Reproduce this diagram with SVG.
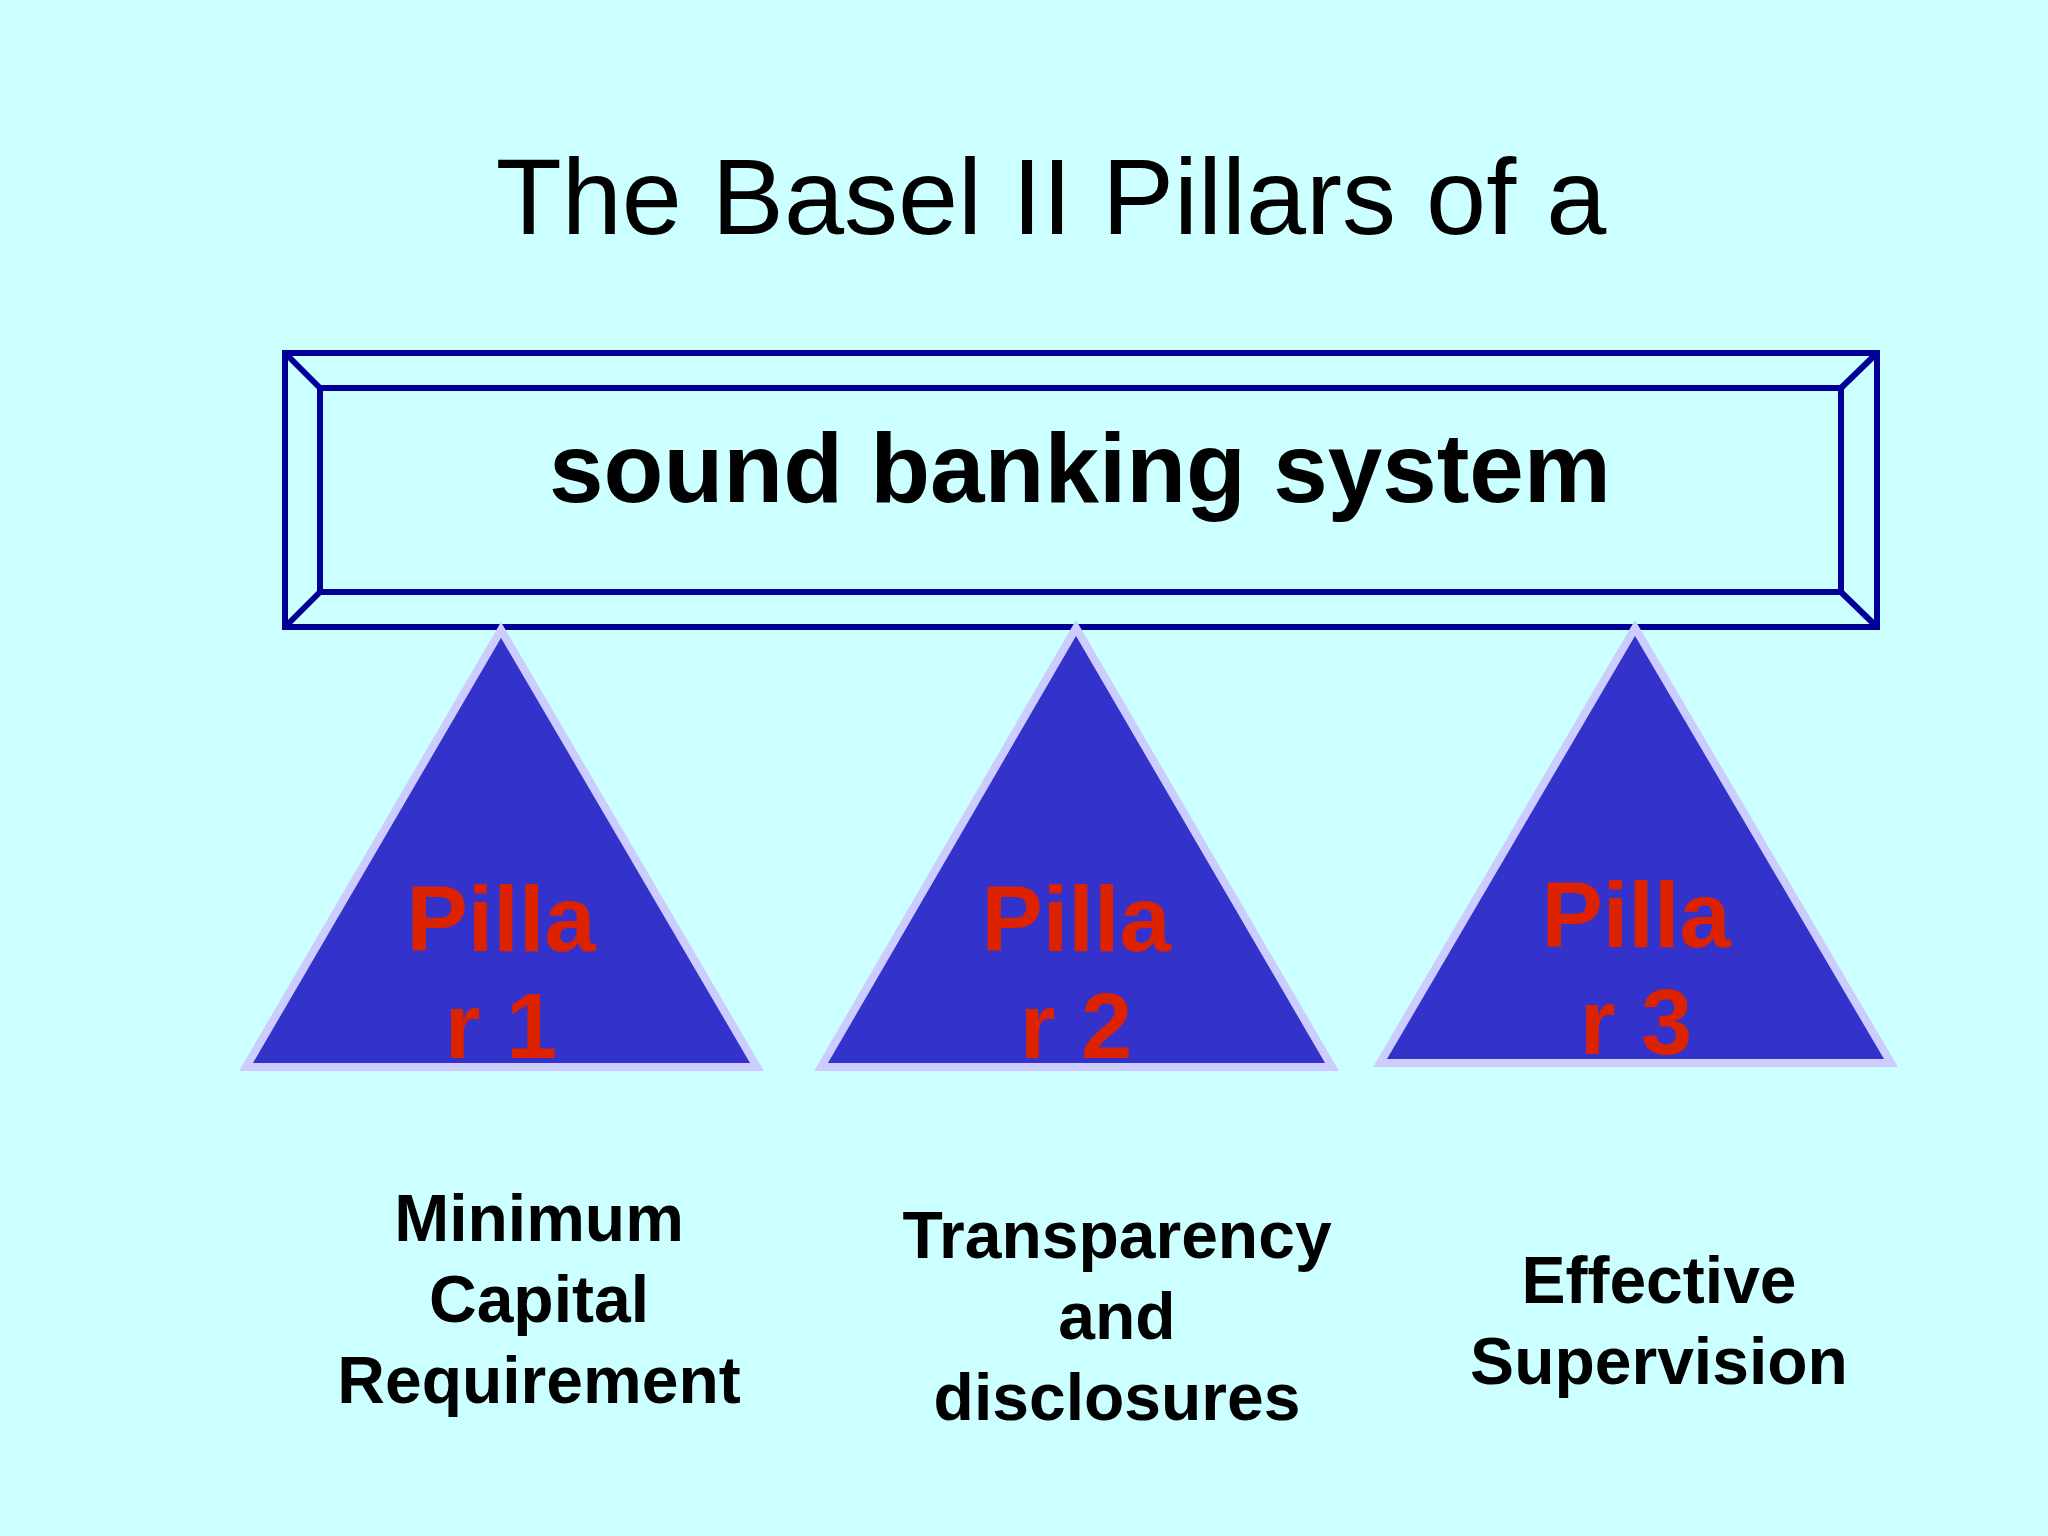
<svg xmlns="http://www.w3.org/2000/svg" width="2048" height="1536" viewBox="0 0 2048 1536">
<style>
.t{font-family:"Liberation Sans",Arial,sans-serif;text-anchor:middle}
.tri{fill:#3333cc;stroke:#ccccff;stroke-width:8;stroke-linejoin:miter}
.p{font-weight:bold;font-size:92px;fill:#dd2200}
.l{font-weight:bold;font-size:66px;fill:#000}
.b{fill:none;stroke:#000099;stroke-width:6}
</style>
<rect width="2048" height="1536" fill="#ccffff"/>
<text class="t" x="1051" y="234" font-size="108" fill="#000">The Basel II Pillars of a</text>
<g id="system">
<rect class="b" x="285" y="353" width="1592" height="274"/>
<rect class="b" x="320" y="388" width="1521" height="204"/>
<path class="b" d="M285 353L320 388M1877 353L1841 388M285 627L320 592M1877 627L1841 592"/>
<text class="t" x="1080" y="502" font-size="98" font-weight="bold" fill="#000">sound banking system</text>
</g>
<g id="pillar1">
<polygon class="tri" points="501,630 246,1067 757,1067"/>
<text class="t p" x="501" y="951">Pilla</text><text class="t p" x="501" y="1058">r 1</text>
<text class="t l" x="539" y="1241">Minimum</text><text class="t l" x="539" y="1322">Capital</text><text class="t l" x="539" y="1403">Requirement</text>
</g>
<g id="pillar2">
<polygon class="tri" points="1076,628 821,1067 1332,1067"/>
<text class="t p" x="1076" y="951">Pilla</text><text class="t p" x="1076" y="1058">r 2</text>
<text class="t l" x="1117" y="1258">Transparency</text><text class="t l" x="1117" y="1339">and</text><text class="t l" x="1117" y="1420">disclosures</text>
</g>
<g id="pillar3">
<polygon class="tri" points="1635,628 1380,1063 1891,1063"/>
<text class="t p" x="1636" y="947">Pilla</text><text class="t p" x="1636" y="1054">r 3</text>
<text class="t l" x="1659" y="1303">Effective</text><text class="t l" x="1659" y="1384">Supervision</text>
</g>
<g id="connectors"/>
</svg>
